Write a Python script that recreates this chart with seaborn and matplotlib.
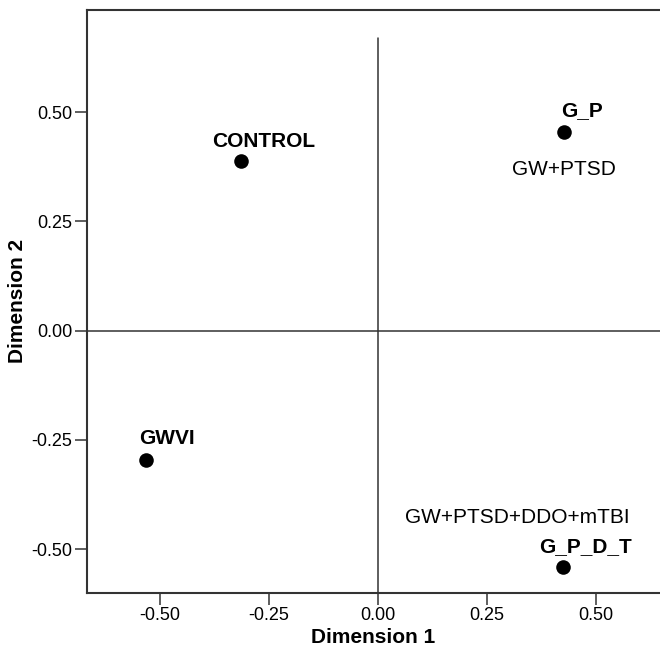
import pandas as pd
import matplotlib
matplotlib.use('Agg')
import matplotlib.pyplot as plt
import seaborn as sns

# group coordinates
groups = ['CONTROL', 'G_P', 'GWVI', 'G_P_D_T']
dim1 = [-0.314, 0.427, -0.532, 0.424]
dim2 = [0.388, 0.455, -0.296, -0.541]
descr = {'G_P': 'GW+PTSD', 'G_P_D_T': 'GW+PTSD+DDO+mTBI'}

df = pd.DataFrame({'Group': groups, 'Dim1': dim1, 'Dim2': dim2})

sns.set_style('white')
plt.rcParams['font.family'] = ['Liberation Sans', 'DejaVu Sans']
plt.rcParams['text.color'] = 'black'

fig = plt.figure(figsize=(6.6, 6.56), dpi=100)
ax = fig.add_axes([0.1314, 0.0965, 0.8686, 0.8883])

ax.set_xlim(-0.668, 0.647)
ax.set_ylim(-0.600, 0.734)

# reference lines through origin
ax.axhline(0, color='#333333', lw=1.1, zorder=1)
ax.plot([0, 0], [-0.600, 0.670], color='#333333', lw=1.1, zorder=1)

sns.scatterplot(x='Dim1', y='Dim2', data=df, ax=ax, color='black', s=110,
                edgecolor='black', linewidth=0, zorder=3)

# label offsets (dx, dy) from each point
lab = {
    'CONTROL': (0.052, 0.046),
    'G_P': (0.041, 0.048),
    'GWVI': (0.048, 0.049),
    'G_P_D_T': (0.051, 0.046),
}
for g, x, y in zip(groups, dim1, dim2):
    dx, dy = lab[g]
    ax.text(x + dx, y + dy, g, fontsize=15, fontweight='bold', ha='center', va='center')

ax.text(0.427, 0.368, descr['G_P'], fontsize=15, ha='center', va='center')
ax.text(0.319, -0.428, descr['G_P_D_T'], fontsize=15, ha='center', va='center')

ticks = [-0.50, -0.25, 0.00, 0.25, 0.50]
ax.set_xticks(ticks)
ax.set_yticks(ticks)
ax.set_xticklabels(['%.2f' % t for t in ticks])
ax.set_yticklabels(['%.2f' % t for t in ticks])
ax.tick_params(direction='out', length=8.5, width=1.1, color='#333333',
               labelsize=13, labelcolor='black', pad=2, bottom=True, left=True)

ax.spines['right'].set_visible(False)
for sp in ax.spines.values():
    sp.set_color('#333333')
    sp.set_linewidth(1.5)

ax.set_xlabel('Dimension 1', fontsize=15, fontweight='bold', labelpad=3, color='black')
ax.set_ylabel('Dimension 2', fontsize=15, fontweight='bold', labelpad=3, color='black')

plt.savefig('out.png', dpi=100)
